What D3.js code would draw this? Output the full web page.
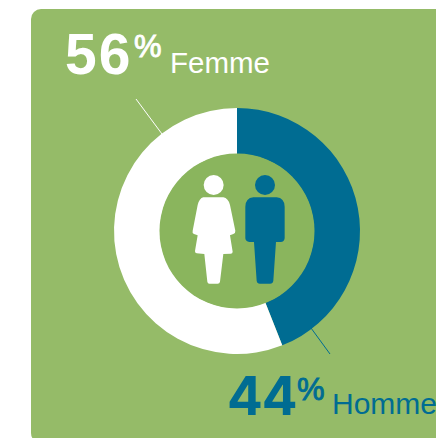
<!DOCTYPE html>
<html><head><meta charset="utf-8">
<script src="https://cdn.jsdelivr.net/npm/d3@7"></script>
<style>html,body{margin:0;padding:0;background:#fff;overflow:hidden}svg{display:block}text{font-family:"Liberation Sans",Arial,sans-serif}</style>
</head><body><svg id="c" width="436" height="438"></svg>
<script>
const categories = ["Homme", "Femme"];
const values = [44, 56];
const colors = ["#006c92", "#ffffff"];
const percentLabels = ["44", "56"];

const svg = d3.select("#c");
svg.append("rect").attr("x",31).attr("y",9).attr("width",460).attr("height",434).attr("rx",10).attr("fill","#95bb68");

const cx = 237, cy = 231;
const g = svg.append("g").attr("transform",`translate(${cx},${cy})`);
const pie = d3.pie().sort(null)(values);
const arc = d3.arc().innerRadius(77).outerRadius(123);
g.selectAll("path.s").data(pie).join("path").attr("class","s").attr("d",arc).attr("fill",(d,i)=>colors[i]);
g.append("circle").attr("r",77.5).attr("fill","#8ab55d");

const icon = svg.append("g").attr("transform","translate(170,160) scale(0.3333)");
icon.append("circle").attr("cx",131).attr("cy",75).attr("r",30).attr("fill",colors[1]);
icon.append("path").attr("fill",colors[1]).attr("d","M100,112 L160,112 Q175,115 180,135 L196,212 Q197,220 190,222 L180,226 L188,275 Q188,281 182,281 L160,282 L150,365 Q149,371 143,371 L118,371 Q113,371 112,365 L103,282 L80,280 Q74,279 75,273 L83,226 L72,222 Q66,219 68,212 L83,135 Q88,115 100,112 Z");
icon.append("circle").attr("cx",285).attr("cy",75).attr("r",30).attr("fill",colors[0]);
icon.append("path").attr("fill",colors[0]).attr("d","M250,112 L320,112 Q343,114 344,140 L344,235 Q343,246 332,246 L318,246 L310,362 Q309,371 300,371 L270,371 Q261,371 260,362 L252,246 L238,246 Q227,245 226,235 L226,140 Q227,114 250,112 Z");

svg.append("line").attr("x1",136).attr("y1",99).attr("x2",162).attr("y2",134).attr("stroke","#fff").attr("stroke-width",1);
svg.append("line").attr("x1",311).attr("y1",328).attr("x2",330).attr("y2",354).attr("stroke",colors[0]).attr("stroke-width",1);

function t(x,y,s,size,fill,opts){
  opts = opts||{};
  const n = svg.append("text").attr("x",x).attr("y",y).attr("font-size",size).attr("fill",fill).attr("font-weight",opts.weight||400).text(s);
  if(opts.spacing) n.attr("letter-spacing",opts.spacing);
  if(opts.family) n.style("font-family",opts.family);
  if(opts.stroke) n.attr("stroke",fill).attr("stroke-width",opts.stroke);
}
t(65,73.5,percentLabels[1],57,colors[1],{weight:700,spacing:2});
t(134,57,"%",31,colors[1],{stroke:0.9});
t(170,73,categories[1],29.5,colors[1]);
t(227,415,percentLabels[0],53,colors[0],{weight:700,family:"Inter",spacing:-1});
t(297,400,"%",31,colors[0],{stroke:0.9});
t(332,414,categories[0],30,colors[0]);
</script></body></html>
